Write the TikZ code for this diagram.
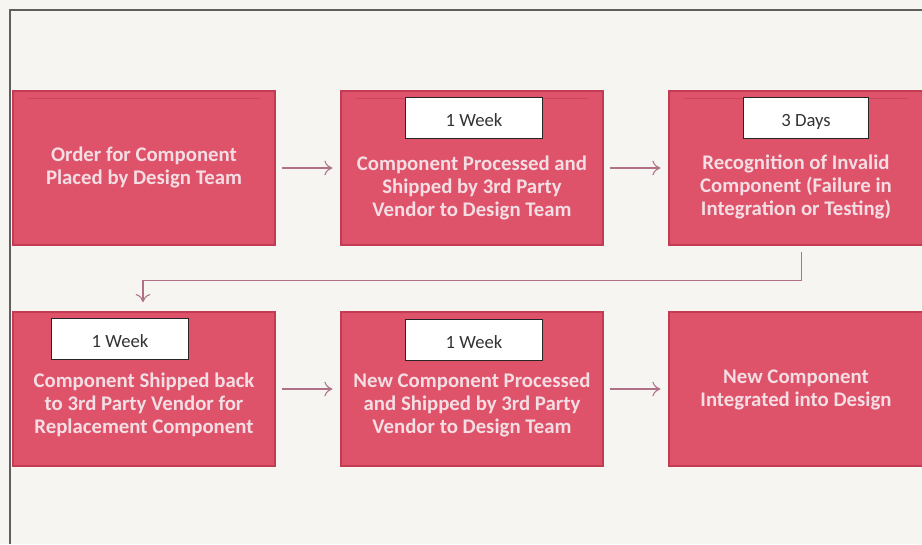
\documentclass[tikz,border=0pt]{standalone}
\usepackage{fontspec}
\setmainfont{Carlito}
\usetikzlibrary{arrows.meta}

\definecolor{paper}{RGB}{246,245,242}
\definecolor{stepfill}{RGB}{222,82,106}
\definecolor{stepedge}{RGB}{196,60,84}
\definecolor{steptext}{RGB}{244,222,228}
\definecolor{flowline}{RGB}{176,112,136}
\definecolor{frameline}{RGB}{95,95,95}

\tikzset{
  stepbox/.style={rectangle, fill=stepfill, draw=stepedge, line width=0.9pt,
    minimum width=196.5pt, minimum height=115.5pt, inner sep=0pt},
  steplabel/.style={text=steptext, align=center, font=\bfseries\fontsize{15.6}{17.3}\selectfont},
  timebox/.style={rectangle, fill=white, draw=black!85, line width=1.1pt,
    minimum width=103pt, minimum height=31pt, inner sep=0pt,
    text height=15pt, text depth=3pt,
    text=black!80, font=\fontsize{14}{17}\selectfont},
  flow/.style={draw=flowline, line width=0.8pt, -{To[length=6pt,width=11pt]}},
}

\begin{document}
\begin{tikzpicture}[x=0.75pt, y=-0.75pt]
  \useasboundingbox (0,0) rectangle (922,544);
  \fill[paper] (0,0) rectangle (922,544);
  \draw[frameline, line width=1.2pt] (10,544) -- (10,10) -- (922,10);

  % first row of steps
  \node[stepbox] (b1) at (144,168) {};
  \node[stepbox] (b2) at (472,168) {};
  \node[stepbox, minimum width=190.5pt] (b3) at (796,168) {};
  % second row of steps
  \node[stepbox] (b4) at (144,389) {};
  \node[stepbox] (b5) at (472,389) {};
  \node[stepbox, minimum width=190.5pt] (b6) at (796,389) {};

  % faint rule near the top of the first row
  \foreach \b in {b1,b2,b3}
    \draw[stepedge!80!black, opacity=0.35, line width=0.6pt]
      ([xshift=12pt,yshift=-6pt]\b.north west) -- ([xshift=-12pt,yshift=-6pt]\b.north east);

  % step texts
  \node[steplabel] (t1) at (144,167) {Order for Component\\Placed by Design Team};
  \node[steplabel] (t2) at (472,188) {Component Processed and\\Shipped by 3rd Party\\Vendor to Design Team};
  \node[steplabel] (t3) at (796,187) {Recognition of Invalid\\Component (Failure in\\Integration or Testing)};
  \node[steplabel] (t4) at (144,405) {Component Shipped back\\to 3rd Party Vendor for\\Replacement Component};
  \node[steplabel] (t5) at (472,405) {New Component Processed\\and Shipped by 3rd Party\\Vendor to Design Team};
  \node[steplabel] (t6) at (796,390) {New Component\\Integrated into Design};

  % durations
  \node[timebox] (d2) at (474,118) {1 Week};
  \node[timebox, minimum width=94pt] (d3) at (806,118) {3 Days};
  \node[timebox] (d4) at (120,339) {1 Week};
  \node[timebox] (d5) at (474,340) {1 Week};

  % connectors
  \draw[flow] ([xshift=4.5pt]b1.east) -- ([xshift=-6pt]b2.west);
  \draw[flow] ([xshift=4.5pt]b2.east) -- ([xshift=-6pt]b3.west);
  \draw[flow] ([xshift=4pt,yshift=-5pt]b3.south) -- ++(0,28) -| ([xshift=-0.75pt,yshift=7pt]b4.north);
  \draw[flow] ([xshift=4.5pt]b4.east) -- ([xshift=-6pt]b5.west);
  \draw[flow] ([xshift=4.5pt]b5.east) -- ([xshift=-6pt]b6.west);
\end{tikzpicture}
\end{document}
